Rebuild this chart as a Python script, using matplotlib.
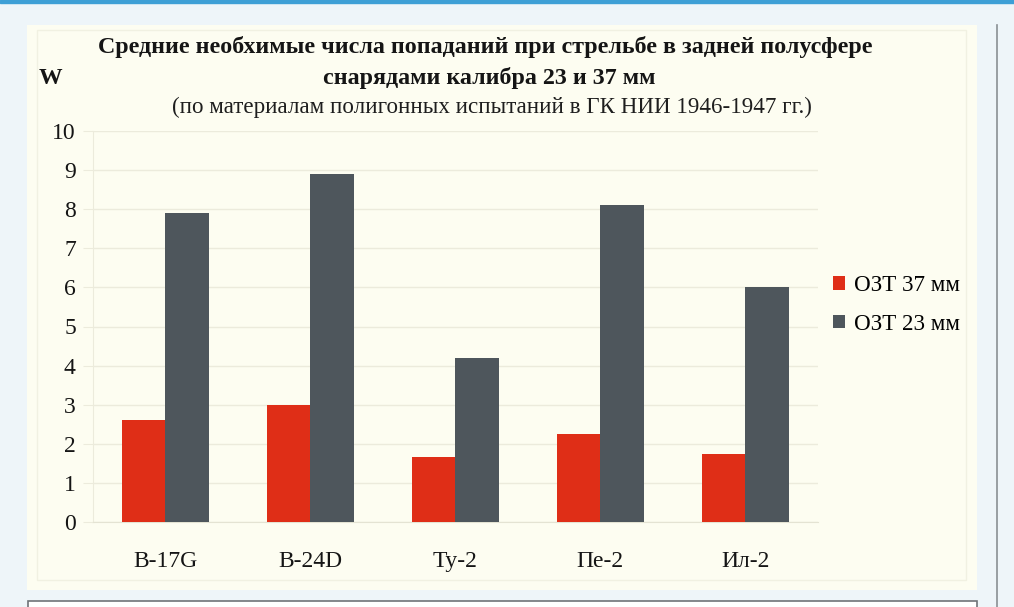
import matplotlib.pyplot as plt
import matplotlib.patches as patches
import numpy as np

# data
aircraft = ["B-17G", "B-24D", "Ту-2", "Пе-2", "Ил-2"]
ozt_37 = [2.6, 3.0, 1.65, 2.25, 1.75]
ozt_23 = [7.9, 8.9, 4.2, 8.1, 6.0]
series_names = ["ОЗТ 37 мм", "ОЗТ 23 мм"]
yticks = list(range(0, 11))

W, H = 1014, 607
plt.rcParams["font.family"] = ["Liberation Serif", "DejaVu Serif"]

fig = plt.figure(figsize=(W / 100, H / 100), dpi=100)
fig.patch.set_facecolor("#eef5f9")


def px(x0, y0, x1, y1):
    # pixel box (top-left origin) -> figure fraction rect
    return (x0 / W, 1 - y1 / H, (x1 - x0) / W, (y1 - y0) / H)


def deco(artist):
    artist.set_zorder(-10)
    fig.add_artist(artist)


# page decoration: blue top line, cream panel, side rule, white box below
deco(patches.Rectangle((0, 1 - 2.5 / H), 1, 2.5 / H,
                       transform=fig.transFigure, color="#3d9fd6"))
x, y, w, h = px(27, 25, 977, 590)
deco(patches.Rectangle((x, y), w, h, transform=fig.transFigure,
                       facecolor="#fdfdf1", edgecolor="none"))
x, y, w, h = px(37, 30, 966, 580)
deco(patches.Rectangle((x, y), w, h, transform=fig.transFigure,
                       facecolor="none", edgecolor="#f1f1e2", lw=1))
deco(plt.Line2D([997 / W, 997 / W], [0, 1 - 25 / H],
                transform=fig.transFigure, color="#8a8f94", lw=1.2))
x, y, w, h = px(28, 601, 977, 612)
deco(patches.Rectangle((x, y), w, h, transform=fig.transFigure,
                       facecolor="white", edgecolor="#6f7378", lw=1.2))

ax = fig.add_axes(px(92.5, 131, 818, 522))
ax.set_facecolor("none")

pos = np.arange(len(aircraft))
bw = 0.3
ax.bar(pos - bw / 2, ozt_37, bw, color="#df2e17", label=series_names[0], zorder=3)
ax.bar(pos + bw / 2, ozt_23, bw, color="#4e565c", label=series_names[1], zorder=3)

ax.set_xlim(-0.5, len(aircraft) - 0.5)
ax.set_ylim(0, 10)
ax.set_yticks(yticks)
ax.set_xticks(pos)
ax.set_xticklabels(aircraft, fontsize=17, color="#151515")
ax.set_yticklabels([str(t) for t in yticks], fontsize=17, color="#151515")
ax.tick_params(axis="y", length=7, color="#ecebdc", pad=5)
ax.tick_params(axis="x", length=0, pad=21)
ax.grid(axis="y", color="#ecebdc", lw=1, zorder=0)
for s in ["top", "right"]:
    ax.spines[s].set_visible(False)
ax.spines["left"].set_color("#ecebdc")
ax.spines["bottom"].set_color("#e4e3d3")
ax.spines["left"].set_zorder(1)

fig.text(485 / W, 1 - 47 / H,
         "Средние необхимые числа попаданий при стрельбе в задней полусфере",
         ha="center", va="center", fontsize=17.3, fontweight="bold", color="#151515")
fig.text(489 / W, 1 - 78 / H, "снарядами калибра 23 и 37 мм",
         ha="center", va="center", fontsize=17.3, fontweight="bold", color="#151515")
fig.text(492 / W, 1 - 107 / H,
         "(по материалам полигонных испытаний в ГК НИИ 1946-1947 гг.)",
         ha="center", va="center", fontsize=16.6, color="#1e1e1e")
fig.text(50 / W, 1 - 79 / H, "W", ha="center", va="center",
         fontsize=17, fontweight="bold", color="#151515")

fig.legend(loc="center left", bbox_to_anchor=(812 / W, 1 - 305 / H),
           frameon=False, fontsize=16.6, handlelength=0.55, handleheight=0.55,
           handletextpad=0.35, labelspacing=0.75)

fig.savefig("out.png", dpi=100, facecolor=fig.get_facecolor())
